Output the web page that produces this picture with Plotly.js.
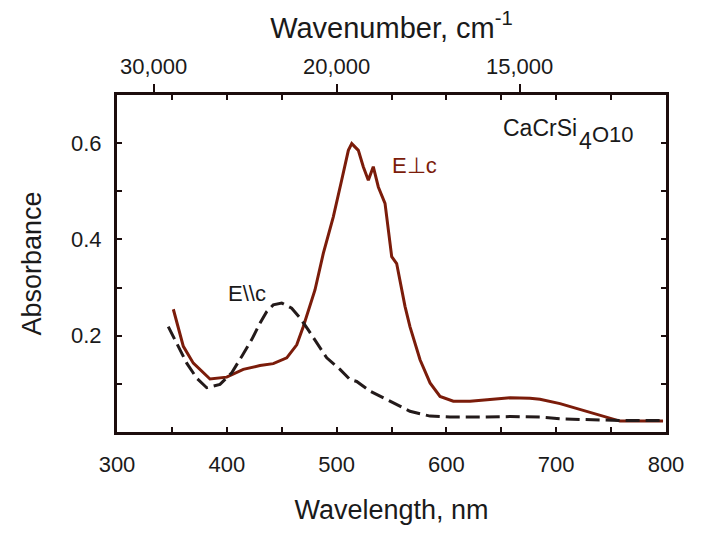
<!DOCTYPE html>
<html>
<head>
<meta charset="utf-8">
<script src="https://cdn.plot.ly/plotly-3.0.1.min.js"></script>
<style>html,body{margin:0;padding:0;background:#fff}#chart{width:704px;height:537px}</style>
</head>
<body>
<div id="chart"></div>
<script>
// E perpendicular c (brown, solid)
const perpWl = [351.3, 357.4, 360.4, 369.5, 384.7, 399.9, 415.0, 430.2, 442.3, 454.6, 463.7, 469.7, 475.8, 480.3,
  487.9, 497.0, 504.6, 510.7, 513.8, 519.8, 524.3, 528.9, 533.4, 538.0, 544.1, 547.1, 550.2, 554.7, 557.7, 562.3,
  566.8, 576.0, 585.1, 594.2, 606.3, 621.5, 639.7, 657.9, 676.1, 685.2, 703.5, 721.7, 739.9, 758.1, 776.3, 797.3];
const perpAbs = [0.255, 0.206, 0.178, 0.143, 0.110, 0.114, 0.130, 0.138, 0.142, 0.154, 0.181, 0.219, 0.261, 0.295,
  0.371, 0.447, 0.523, 0.585, 0.599, 0.585, 0.551, 0.523, 0.551, 0.509, 0.475, 0.419, 0.364, 0.350, 0.316, 0.261,
  0.219, 0.150, 0.102, 0.074, 0.064, 0.064, 0.0675, 0.071, 0.070, 0.068, 0.059, 0.047, 0.036, 0.0226, 0.0226, 0.0226];

// E parallel c (black, dashed)
const parWl = [346.7, 352.8, 363.5, 372.6, 381.7, 393.8, 404.5, 413.6, 422.7, 430.2, 436.3, 442.3, 450.0, 459.1,
  466.7, 474.2, 481.9, 491.0, 503.1, 512.2, 518.3, 530.4, 548.6, 566.8, 585.1, 603.3, 630.6, 657.9, 685.2, 703.5,
  721.7, 739.9, 758.1, 794.5];
const parAbs = [0.219, 0.192, 0.143, 0.112, 0.092, 0.099, 0.123, 0.157, 0.192, 0.226, 0.250, 0.264, 0.268, 0.257,
  0.237, 0.212, 0.185, 0.154, 0.130, 0.109, 0.105, 0.085, 0.064, 0.043, 0.033, 0.031, 0.031, 0.032, 0.031, 0.0275,
  0.026, 0.0246, 0.024, 0.024];

const wlTicks = [300, 400, 500, 600, 700, 800];
const wnTickText = ["30,000", "20,000", "15,000"];
const wnTickVals = [1e7 / 30000, 1e7 / 20000, 1e7 / 15000];
const absTicks = [0.2, 0.4, 0.6];

const frame = "#1c0d0d";
const font = "Liberation Sans, Arial, sans-serif";
const ink = "#1a1a1a";

const traces = [
  {x: perpWl, y: perpAbs, type: "scatter", mode: "lines", line: {color: "#7b1c0a", width: 3}, xaxis: "x", yaxis: "y"},
  {x: parWl, y: parAbs, type: "scatter", mode: "lines", line: {color: "#231a1a", width: 3, dash: "14px,6px"}, xaxis: "x2", yaxis: "y"}
];

const layout = {
  width: 704, height: 537,
  margin: {l: 117, r: 38, t: 95, b: 105},
  paper_bgcolor: "#fff", plot_bgcolor: "#fff",
  showlegend: false,
  font: {family: font, size: 22, color: ink},
  xaxis: {
    range: [300, 800], tickvals: wlTicks, ticks: "inside", ticklen: 5, tickwidth: 2, tickcolor: frame,
    minor: {dtick: 50, tick0: 300, ticks: "inside", ticklen: 5, tickwidth: 2, tickcolor: frame},
    showline: true, linecolor: frame, linewidth: 3, showgrid: false, zeroline: false,
    ticklabelstandoff: 11,
    title: {text: "Wavelength, nm", font: {size: 27}, standoff: 24}
  },
  xaxis2: {
    range: [300, 800], overlaying: "x", side: "top", tickvals: wnTickVals, ticktext: wnTickText,
    ticks: "outside", ticklen: 8, tickwidth: 2, tickcolor: frame,
    minor: {tickvals: [350, 400, 450, 550, 600, 650, 700, 750], ticks: "inside", ticklen: 5, tickwidth: 2, tickcolor: frame},
    showline: true, linecolor: frame, linewidth: 3, showgrid: false, zeroline: false,
    ticklabelstandoff: 1,
    title: {text: "Wavenumber, cm<sup>-1</sup>", font: {size: 29}, standoff: 8}
  },
  yaxis: {
    range: [0, 0.7], tickvals: absTicks, ticks: "inside", ticklen: 5, tickwidth: 2, tickcolor: frame,
    minor: {dtick: 0.1, tick0: 0, ticks: "inside", ticklen: 5, tickwidth: 2, tickcolor: frame},
    showline: true, mirror: "ticks", linecolor: frame, linewidth: 3, showgrid: false, zeroline: false,
    ticklabelstandoff: 8,
    title: {text: "Absorbance", font: {size: 27}, standoff: 22}
  },
  annotations: [
    {x: 0.700, y: 0.632, xref: "paper", yref: "y", xanchor: "left", yanchor: "middle", showarrow: false,
     text: "CaCrSi", font: {size: 23, color: ink}},
    {x: 0.837, y: 0.604, xref: "paper", yref: "y", xanchor: "left", yanchor: "middle", showarrow: false,
     text: "4", font: {size: 23, color: ink}},
    {x: 0.862, y: 0.618, xref: "paper", yref: "y", xanchor: "left", yanchor: "middle", showarrow: false,
     text: "O10", font: {size: 22, color: ink}},
    {x: 570.5, y: 0.554, xref: "x", yref: "y", xanchor: "center", yanchor: "middle", showarrow: false,
     text: "E⊥c", font: {size: 22, color: "#7b1c0a"}},
    {x: 418, y: 0.287, xref: "x", yref: "y", xanchor: "center", yanchor: "middle", showarrow: false,
     text: "E\\\\c", font: {size: 22, color: ink}}
  ]
};

Plotly.newPlot("chart", traces, layout, {displayModeBar: false, staticPlot: true});
</script>
</body>
</html>
